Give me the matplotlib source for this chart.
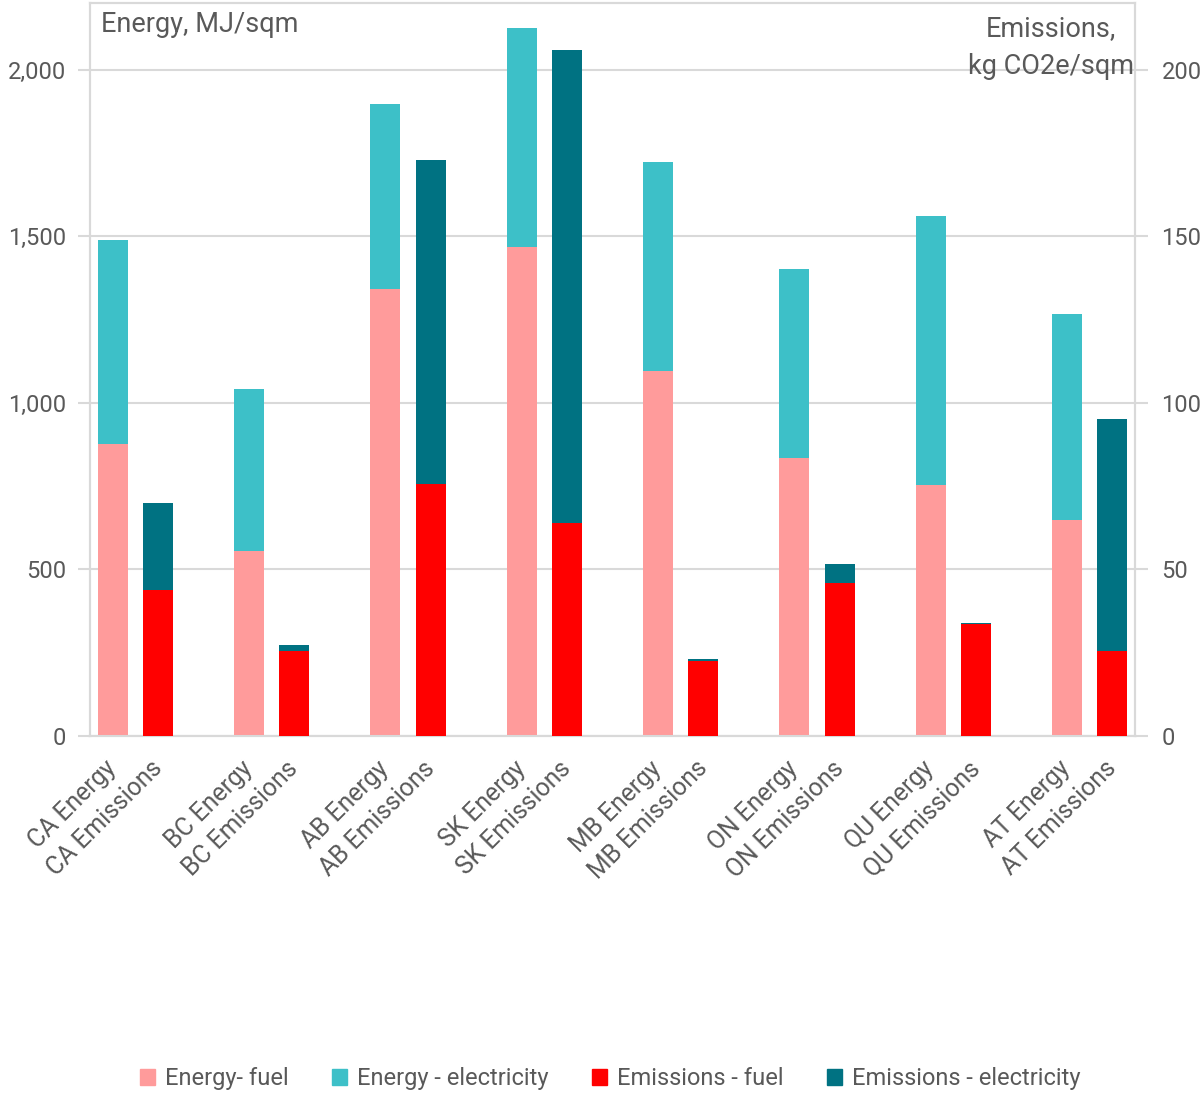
import matplotlib
matplotlib.use("Agg")
import matplotlib.pyplot as plt
from matplotlib.ticker import FuncFormatter
from matplotlib.patches import Patch
import numpy as np

plt.rcParams['font.family'] = ['Roboto', 'DejaVu Sans']

regions = ["CA", "BC", "AB", "SK", "MB", "ON", "QU", "AT"]
energy_fuel = [877, 553, 1340, 1468, 1094, 835, 751, 646]
energy_elec = [610, 489, 557, 657, 627, 567, 808, 621]
emis_fuel = [43.6, 25.3, 75.4, 63.7, 22.4, 45.8, 33.5, 25.3]
emis_elec = [26.1, 1.9, 97.5, 142.3, 0.6, 5.7, 0.2, 69.7]

c_en_fuel = "#FF9B9B"
c_en_elec = "#3DC0C8"
c_em_fuel = "#FF0000"
c_em_elec = "#007282"
grey = "#D9D9D9"
txt = "#595959"
fs = 17

fig = plt.figure(figsize=(12.03, 10.93), dpi=100)
ax = fig.add_axes([0.0748, 0.327, 0.8687, 0.6703])
ax2 = ax.twinx()

n = len(regions)
x_en = np.arange(n) * 3
x_em = x_en + 1
w = 0.66

ax.bar(x_en, energy_fuel, w, color=c_en_fuel, linewidth=0, zorder=3)
ax.bar(x_en, energy_elec, w, bottom=energy_fuel, color=c_en_elec, linewidth=0, zorder=3)
ax2.bar(x_em, emis_fuel, w, color=c_em_fuel, linewidth=0, zorder=3)
ax2.bar(x_em, emis_elec, w, bottom=emis_fuel, color=c_em_elec, linewidth=0, zorder=3)

ax.set_xlim(-0.5, 3 * n - 1.5)
ax.set_ylim(0, 2200)
ax2.set_ylim(0, 220)
ax.set_yticks([0, 500, 1000, 1500, 2000])
ax2.set_yticks([0, 50, 100, 150, 200])
ax.yaxis.set_major_formatter(FuncFormatter(lambda v, p: f"{int(v):,}"))

ticks = []
labels = []
for i, r in enumerate(regions):
    ticks += [x_en[i], x_em[i]]
    labels += [f"{r} Energy", f"{r} Emissions"]
ax.set_xticks(ticks)
ax.set_xticklabels(labels, rotation=45, ha="right", va="center",
                   rotation_mode="anchor", fontsize=17.8, color=txt)
ax.tick_params(axis="x", length=0, pad=21)
ax.tick_params(axis="y", length=9, width=1.5, color=grey, labelsize=fs,
               labelcolor=txt, pad=8)
ax2.tick_params(axis="y", length=9, width=1.5, color=grey, labelsize=fs,
                labelcolor=txt, pad=10)

ax.grid(axis="y", color=grey, linewidth=1.5, zorder=0)
ax.set_axisbelow(True)
for a in (ax, ax2):
    for s in a.spines.values():
        s.set_color(grey)
        s.set_linewidth(1.5)

ax.text(0.011, 0.971, "Energy, MJ/sqm", transform=ax.transAxes, ha="left",
        va="center", fontsize=19.5, color=txt)
ax.text(0.999, 0.939, "Emissions,\nkg CO2e/sqm", transform=ax.transAxes,
        ha="right", va="center", multialignment="center", fontsize=19.5,
        color=txt, linespacing=1.55)

handles = [Patch(color=c_en_fuel), Patch(color=c_en_elec),
           Patch(color=c_em_fuel), Patch(color=c_em_elec)]
names = ["Energy- fuel", "Energy - electricity", "Emissions - fuel",
         "Emissions - electricity"]
leg = fig.legend(handles, names, loc="center", bbox_to_anchor=(0.507, 0.013),
                 ncol=4, frameon=False, fontsize=fs, handlelength=0.65,
                 handleheight=0.65, handletextpad=0.4, columnspacing=1.85)
for t in leg.get_texts():
    t.set_color(txt)

fig.savefig("out.png", dpi=100)
